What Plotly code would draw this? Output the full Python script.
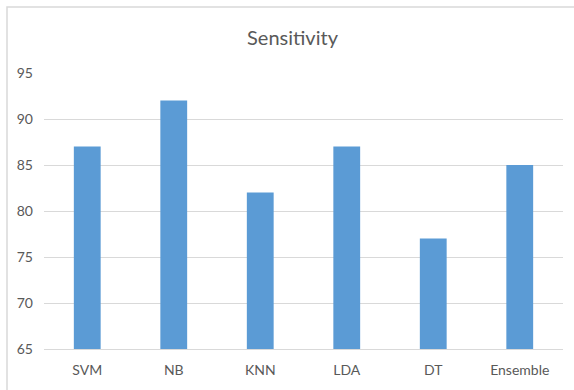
import plotly.graph_objects as go

categories = ["SVM", "NB", "KNN", "LDA", "DT", "Ensemble"]
sensitivity = [87, 92, 82, 87, 77, 85]
y_ticks = [65, 70, 75, 80, 85, 90, 95]

W, H = 574, 390
L, R, T, B = 44, 11, 73, 41
pw = W - L - R
ph = H - T - B

fig = go.Figure(go.Bar(x=categories, y=sensitivity, marker=dict(color="#5B9BD5", line=dict(width=0))))

font_family = "Lato, Open Sans, sans-serif"
fig.update_layout(
    width=W, height=H,
    margin=dict(l=L, r=R, t=T, b=B),
    paper_bgcolor="white", plot_bgcolor="white",
    bargap=0.69,
    showlegend=False,
    title=dict(text="Sensitivity", x=292.5 / W, xref="container", xanchor="center",
               y=1 - 38 / H, yref="container", yanchor="middle",
               font=dict(family=font_family, size=20, color="#595959")),
    font=dict(family=font_family, size=14, color="#595959"),
)
fig.update_yaxes(range=[65, 95], tickvals=y_ticks, showgrid=True, gridcolor="#D9D9D9", gridwidth=1,
                 zeroline=False, showline=False, ticks="", ticklabelstandoff=10,
                 tickfont=dict(size=14, color="#595959"))
fig.update_xaxes(showline=True, linecolor="#D9D9D9", linewidth=1, ticks="", showgrid=False,
                 ticklabelstandoff=8, tickfont=dict(size=14, color="#595959"))

x0 = (7 - L) / pw
y1 = (H - B - 7) / ph
fig.add_shape(type="rect", xref="paper", yref="paper", x0=x0, x1=1.2, y0=-0.3, y1=y1,
              line=dict(color="#D9D9D9", width=1.5), fillcolor="rgba(0,0,0,0)", layer="below")

fig.write_html("out.html", config={"displayModeBar": False},
               post_script="document.body.style.margin='0';document.body.style.overflow='hidden';")
